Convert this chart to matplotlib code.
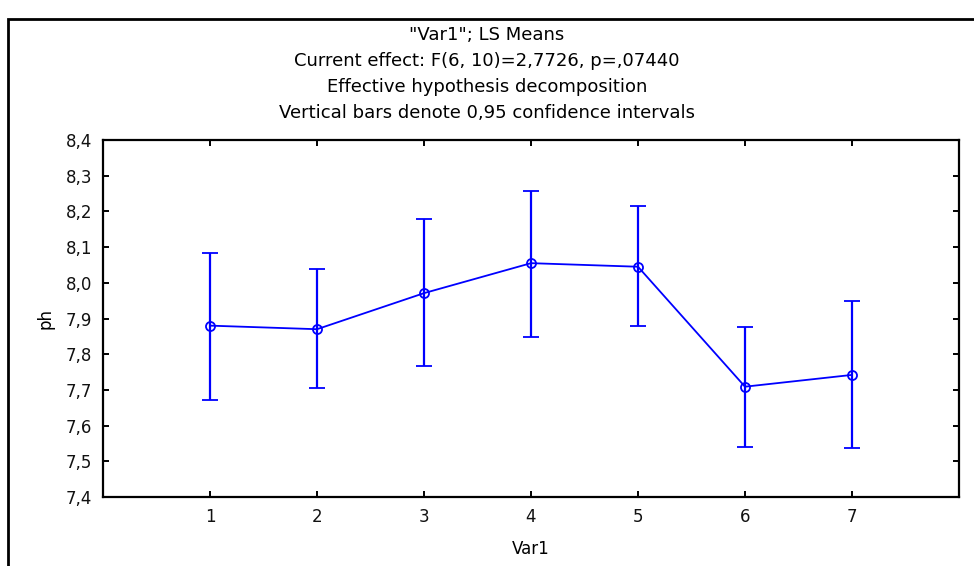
import matplotlib
matplotlib.use('Agg')
import matplotlib.pyplot as plt
from matplotlib.patches import Rectangle
from matplotlib.ticker import FuncFormatter, MultipleLocator

# LS means of ph for each level of Var1, with 0.95 CI limits
var1 = [1, 2, 3, 4, 5, 6, 7]
ph_mean = [7.880, 7.870, 7.971, 8.055, 8.045, 7.709, 7.742]
ph_upper = [8.083, 8.040, 8.178, 8.257, 8.214, 7.876, 7.948]
ph_lower = [7.672, 7.704, 7.767, 7.848, 7.879, 7.541, 7.537]

titles = ['"Var1"; LS Means',
          'Current effect: F(6, 10)=2,7726, p=,07440',
          'Effective hypothesis decomposition',
          'Vertical bars denote 0,95 confidence intervals']

plt.rcParams['font.family'] = ['DejaVu Sans']

fig = plt.figure(figsize=(9.74, 5.66), dpi=100)
ax = fig.add_axes([103/974, 69/566, 856/974, 357/566])

err_low = [m - l for m, l in zip(ph_mean, ph_lower)]
err_up = [u - m for m, u in zip(ph_mean, ph_upper)]

ax.errorbar(var1, ph_mean, yerr=[err_low, err_up], color='#0000ff',
            lw=1.3, elinewidth=1.6, capsize=5.5, capthick=1.6,
            marker='o', markersize=6.5, markerfacecolor='none',
            markeredgecolor='#0000ff', markeredgewidth=1.3)

ax.set_xlim(0, 8)
ax.set_ylim(7.4, 8.4)
ax.set_xticks(var1)
ax.yaxis.set_major_locator(MultipleLocator(0.1))
ax.yaxis.set_major_formatter(FuncFormatter(lambda v, p: f'{v:.1f}'.replace('.', ',')))
ax.tick_params(direction='in', top=True, right=True, length=4, width=1.4,
               labelsize=12, pad=8, labelcolor='#111111')
for s in ax.spines.values():
    s.set_linewidth(1.6)

ax.set_xlabel('Var1', fontsize=12, labelpad=10)
ax.set_ylabel('ph', fontsize=12, labelpad=8)

for i, t in enumerate(titles):
    fig.text(0.5, 1 - (35 + i * 26) / 566, t, ha='center', va='center',
             fontsize=13)

# frame around the whole figure (cut off at right and bottom)
fig.patches.append(Rectangle((8/974, -0.1), 1.2, 1.1 - 19/566,
                             transform=fig.transFigure, fill=False,
                             lw=2, ec='black', clip_on=False))

fig.savefig('out.png', dpi=100)
